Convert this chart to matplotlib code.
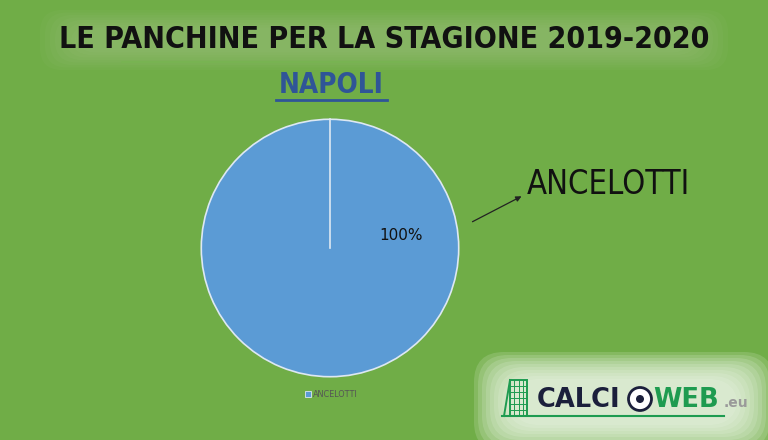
import matplotlib
matplotlib.use("Agg")
import matplotlib.pyplot as plt
from matplotlib.patches import FancyBboxPatch, Rectangle, Circle

# ---- data ----
title = "LE PANCHINE PER LA STAGIONE 2019-2020"
team = "NAPOLI"
coaches = ["ANCELOTTI"]
shares = [100]

bg = "#70AD47"
pie_color = "#5B9BD5"

fig = plt.figure(figsize=(7.68, 4.4), dpi=100)
fig.patch.set_facecolor(bg)

# overlay axes in pixel coordinates
ov = fig.add_axes([0, 0, 1, 1])
ov.set_xlim(0, 768)
ov.set_ylim(440, 0)
ov.axis("off")
ov.patch.set_alpha(0)

# soft glow behind the title
for i in range(8):
    ov.add_patch(FancyBboxPatch((40 + i * 5, 10 + i * 2.5), 688 - i * 10, 60 - i * 5,
                                boxstyle="round,pad=0,rounding_size=22",
                                facecolor="white", edgecolor="none", alpha=0.022, zorder=0))
ov.plot([122, 438], [62, 62], color="#78B452", lw=1.2, zorder=1)

ov.text(384, 39, title, ha="center", va="center", fontsize=21.7, fontweight="bold",
        fontstretch="condensed", family="DejaVu Sans", color="#111111", zorder=3)

ov.text(331, 85, team, ha="center", va="center", fontsize=20, fontweight="bold",
        fontstretch="condensed", family="DejaVu Sans", color="#2F5597", zorder=3)
ov.plot([276, 387], [100, 100], color="#2F5597", lw=2, zorder=3)

# ---- pie ----
cx, cy, r = 330, 248, 130
pax = fig.add_axes([(cx - r) / 768, (440 - cy - r) / 440, 2 * r / 768, 2 * r / 440])
wedges, _ = pax.pie(shares, colors=[pie_color], startangle=90, counterclock=False,
                    radius=1, wedgeprops=dict(edgecolor="#DDE8F3", linewidth=1.2))
pax.plot([0, 0], [0, 1], color="#DDE8F3", lw=1.2)
pax.set_xlim(-1.01, 1.01)
pax.set_ylim(-1.01, 1.01)
pax.set_aspect("equal")
pax.axis("off")

pax.text(0.555, 0.10, f"{shares[0]}%", ha="center", va="center", fontsize=11,
         family="DejaVu Sans", color="#111111")

# callout label
ov.annotate("", xy=(524, 195), xytext=(470, 223),
            arrowprops=dict(arrowstyle="-|>", color="#222222", lw=0.9, mutation_scale=8), zorder=4)
ov.text(527, 185, coaches[0], ha="left", va="center", fontsize=23.5,
        family="DejaVu Sans", fontstretch="condensed", color="#111111", zorder=4)

# legend
ov.add_patch(Rectangle((305, 391), 6, 6, facecolor=pie_color, edgecolor="#DDE8F3", lw=0.6, zorder=4))
ov.text(313, 394.5, coaches[0], ha="left", va="center", fontsize=6.5,
        family="DejaVu Sans", fontstretch="condensed", color="#555555", zorder=4)

# logo glow
for i in range(10):
    ov.add_patch(FancyBboxPatch((474 + i * 4, 352 + i * 3), 300 - i * 8, 100 - i * 6,
                                boxstyle="round,pad=0,rounding_size=30",
                                facecolor="#F3F9EF", edgecolor="none", alpha=0.16, zorder=2))
# goal net icon
gx0, gy0 = 505, 380
ov.add_patch(Rectangle((gx0 + 5, gy0), 17, 36, facecolor="none", edgecolor="#1E9B50", lw=1.4, zorder=5))
for k in range(1, 4):
    ov.plot([gx0 + 5 + k * 4.25] * 2, [gy0, gy0 + 36], color="#1E9B50", lw=0.7, zorder=5)
for k in range(1, 6):
    ov.plot([gx0 + 5, gx0 + 22], [gy0 + k * 6, gy0 + k * 6], color="#1E9B50", lw=0.7, zorder=5)
ov.plot([gx0 + 5, gx0 - 1], [gy0, gy0 + 36], color="#1E9B50", lw=1.4, zorder=5)
ov.plot([502, 724], [416.5, 416.5], color="#1E9B50", lw=1.5, zorder=5)
ov.text(537, 400, "CALCI", ha="left", va="center", fontsize=18.5, fontweight="bold",
        family="DejaVu Sans", color="#1B1F3B", zorder=5)
ov.add_patch(Circle((640, 399), 11.5, facecolor="white", edgecolor="#1B1F3B", lw=2, zorder=5))
ov.add_patch(Circle((640, 399), 4, facecolor="#1B1F3B", edgecolor="none", zorder=6))
ov.text(653, 400, "WEB", ha="left", va="center", fontsize=18.5, fontweight="bold",
        family="DejaVu Sans", color="#1E9B50", zorder=5)
ov.text(724, 403, ".eu", ha="left", va="center", fontsize=10, fontweight="bold",
        family="DejaVu Sans", color="#9A9A9A", zorder=5)

fig.savefig("out.png", dpi=100, facecolor=bg)
